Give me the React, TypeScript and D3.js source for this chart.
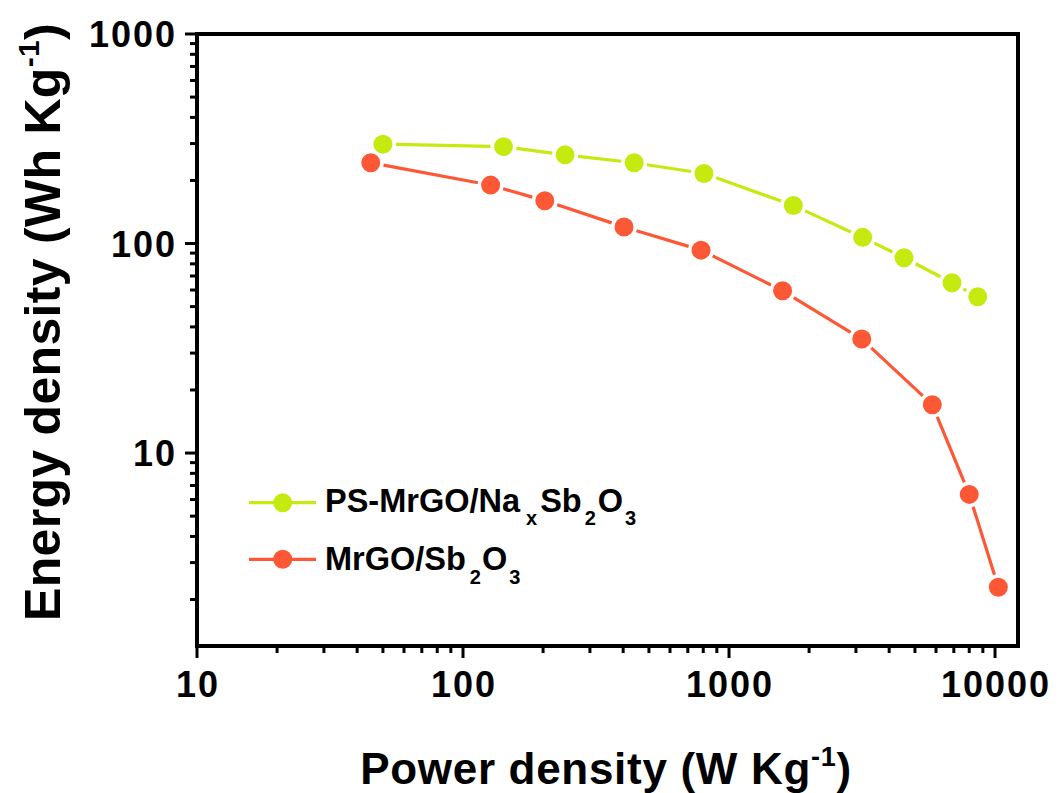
import React from "react";
import * as d3 from "d3";

const powerGreen = [50, 142, 242, 440, 805, 1745, 3180, 4550, 6890, 8610];
const energyGreen = [298, 290, 265, 243, 216, 152, 107, 85.5, 65, 55.7];
const powerRed = [45, 127, 203, 403, 785, 1590, 3155, 5810, 8000, 10290];
const energyRed = [243, 190, 160, 120, 93, 59.5, 35, 17, 6.35, 2.29];
const xTickLabels = ["10", "100", "1000", "10000"];
const yTickLabels = ["10", "100", "1000"];

const GREEN = "#C5EA10";
const RED = "#FD5836";
const FONT = "'Liberation Sans', Arial, Helvetica, sans-serif";

const L = 197, R = 1018, T = 34, B = 646;

export default function App() {
  const x = d3.scaleLog().domain([10, 12200]).range([L, R]);
  const y = d3.scaleLog().domain([1.2, 1000]).range([B, T]);
  const r = 9.5;
  const gap = 13;

  const series = [
    { p: powerGreen, e: energyGreen, c: GREEN },
    { p: powerRed, e: energyRed, c: RED },
  ];

  const xMinor: number[] = [];
  for (let d = 10; d < 100000; d *= 10)
    for (let k = 2; k <= 9; k++) {
      const v = d * k;
      if (v <= 12200) xMinor.push(v);
    }
  const yMinor: number[] = [];
  for (let d = 1; d < 1000; d *= 10)
    for (let k = 2; k <= 9; k++) {
      const v = d * k;
      if (v >= 1.2 && v <= 1000) yMinor.push(v);
    }

  const sub = 13.5;

  return (
    <svg width={1058} height={793} style={{ position: "absolute", left: 0, top: 0, background: "#fff" }}
      fontFamily={FONT} fontWeight="bold">
      {series.map((s, si) => {
        const pts = s.p.map((v, i) => [x(v), y(s.e[i])]);
        return (
          <g key={si}>
            {pts.slice(1).map((pt, i) => {
              const a = pts[i];
              const dx = pt[0] - a[0], dy = pt[1] - a[1];
              const len = Math.hypot(dx, dy);
              if (len <= 2 * gap) return null;
              const ux = dx / len, uy = dy / len;
              return (
                <line key={i} x1={a[0] + ux * gap} y1={a[1] + uy * gap}
                  x2={pt[0] - ux * gap} y2={pt[1] - uy * gap}
                  stroke={s.c} strokeWidth={3.2} />
              );
            })}
            {pts.map((pt, i) => (
              <circle key={"c" + i} cx={pt[0]} cy={pt[1]} r={r} fill={s.c} />
            ))}
          </g>
        );
      })}

      <rect x={L} y={T} width={R - L} height={B - T} fill="none" stroke="#000" strokeWidth={4} />

      {xTickLabels.map((t) => {
        const v = +t;
        return (
          <g key={t}>
            <line x1={x(v)} x2={x(v)} y1={B} y2={B + 12} stroke="#000" strokeWidth={3} />
            <text x={x(v) + 1} y={697} textAnchor="middle" fontSize={36} letterSpacing={2}>{t}</text>
          </g>
        );
      })}
      {xMinor.map((v) => (
        <line key={"xm" + v} x1={x(v)} x2={x(v)} y1={B} y2={B + 7} stroke="#000" strokeWidth={3} />
      ))}

      {yTickLabels.map((t) => {
        const v = +t;
        return (
          <g key={t}>
            <line x1={L - 12} x2={L} y1={y(v)} y2={y(v)} stroke="#000" strokeWidth={3} />
            <text x={177} y={y(v) + 13} textAnchor="end" fontSize={36} letterSpacing={2}>{t}</text>
          </g>
        );
      })}
      {yMinor.map((v) => (
        <line key={"ym" + v} x1={L - 7} x2={L} y1={y(v)} y2={y(v)} stroke="#000" strokeWidth={3} />
      ))}

      <text x={606} y={784} textAnchor="middle" fontSize={44} letterSpacing={0.7}>
        <tspan>Power density (W Kg</tspan>
        <tspan fontSize={27} dy={-18}>-1</tspan>
        <tspan dy={18}>)</tspan>
      </text>
      <text transform="translate(60,322) rotate(-90)" textAnchor="middle" fontSize={50} letterSpacing={0.3}>
        <tspan>Energy density (Wh Kg</tspan>
        <tspan fontSize={30} dy={-21}>-1</tspan>
        <tspan dy={21}>)</tspan>
      </text>

      <line x1={249} x2={316} y1={502.7} y2={502.7} stroke={GREEN} strokeWidth={3.2} />
      <circle cx={282.7} cy={502.7} r={r} fill={GREEN} />
      <text x={325} y={511.7} fontSize={32.5}>
        <tspan>PS-MrGO/Na</tspan>
        <tspan fontSize={20} dx={6} dy={sub}>x</tspan>
        <tspan dx={3} dy={-sub}>Sb</tspan>
        <tspan fontSize={20} dx={3} dy={sub}>2</tspan>
        <tspan dx={2} dy={-sub}>O</tspan>
        <tspan fontSize={20} dx={2} dy={sub}>3</tspan>
      </text>
      <line x1={249} x2={316} y1={559.3} y2={559.3} stroke={RED} strokeWidth={3.2} />
      <circle cx={282.7} cy={559.3} r={r} fill={RED} />
      <text x={325} y={570} fontSize={32.5}>
        <tspan>MrGO/Sb</tspan>
        <tspan fontSize={20} dx={4} dy={sub}>2</tspan>
        <tspan dx={1} dy={-sub}>O</tspan>
        <tspan fontSize={20} dx={2} dy={sub}>3</tspan>
      </text>
    </svg>
  );
}
